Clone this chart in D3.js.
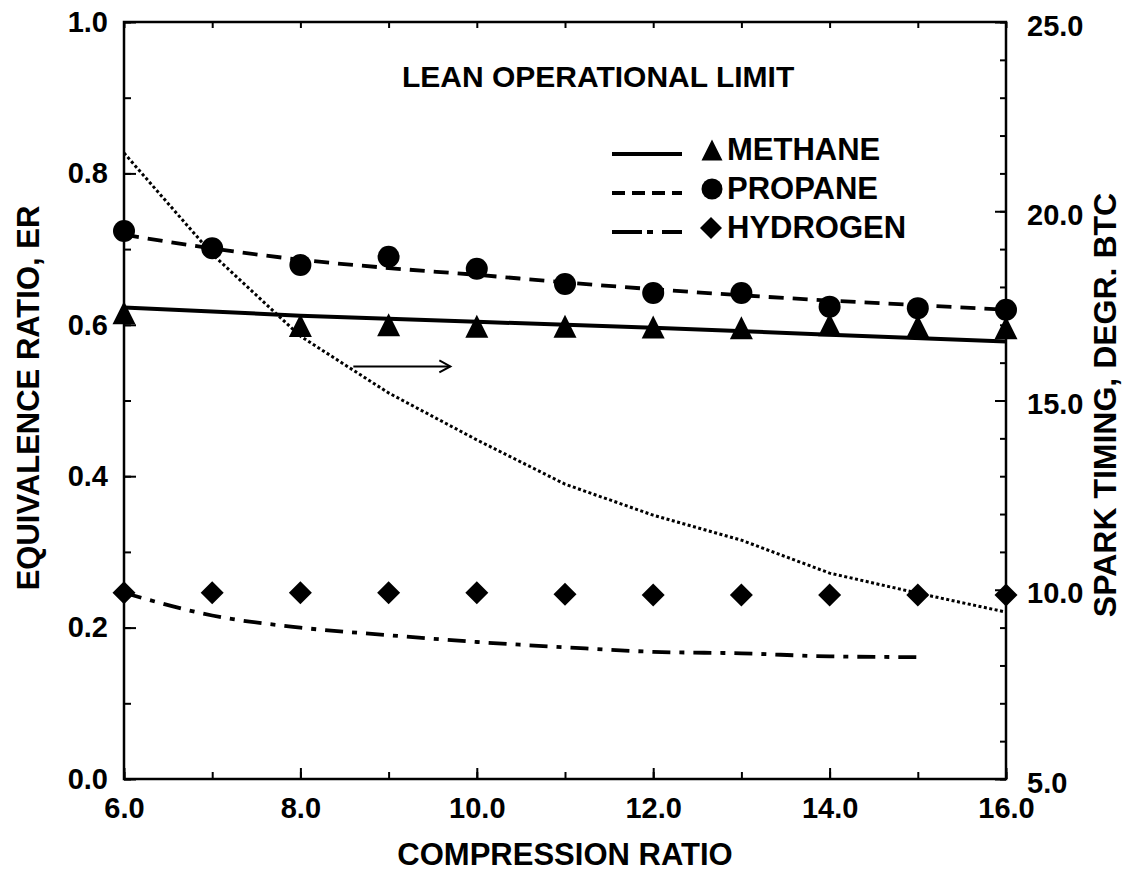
<!DOCTYPE html>
<html><head><meta charset="utf-8">
<script src="https://cdn.jsdelivr.net/npm/d3@7"></script>
<style>
body{margin:0;background:#fff}
svg text{font-family:"Liberation Sans",Arial,Helvetica,sans-serif;font-weight:bold;fill:#000}
</style>
</head><body><svg id="chart" width="1128" height="872"></svg>
<script>
// ---------- data ----------
const compressionRatio = [6,7,8,9,10,11,12,13,14,15,16];
const methaneCR = [6,8,9,10,11,12,13,14,15,16];
const methaneER = [0.616,0.599,0.600,0.598,0.598,0.597,0.596,0.600,0.598,0.596];
const methaneFitCR = [6,8,10,12,14,16];
const methaneFitER = [0.623,0.612,0.604,0.596,0.587,0.578];
const propaneER = [0.724,0.701,0.679,0.690,0.674,0.654,0.642,0.642,0.624,0.622,0.620];
const propaneFitER = [0.719,0.701,0.686,0.675,0.666,0.656,0.647,0.639,0.632,0.626,0.620];
const hydrogenER = [0.246,0.246,0.246,0.246,0.246,0.244,0.243,0.243,0.243,0.243,0.243];
const hydrogenFitCR = [6,7,8,9,10,11,12,13,14,15];
const hydrogenFitER = [0.246,0.216,0.200,0.190,0.181,0.174,0.168,0.166,0.162,0.161];
const sparkTiming = [21.54,18.87,16.70,15.20,13.96,12.79,11.97,11.31,10.44,9.91,9.41];
const xTickValues = [6,8,10,12,14,16];
const leftTickValues = [0,0.2,0.4,0.6,0.8,1.0];
const rightTickValues = [5,10,15,20,25];
const legendLabels = ["METHANE","PROPANE","HYDROGEN"];
const titleText = "LEAN OPERATIONAL LIMIT";
const xTitle = "COMPRESSION RATIO";
const yLeftTitle = "EQUIVALENCE RATIO, ER";
const yRightTitle = "SPARK  TIMING, DEGR. BTC";
const arrowCR = [8.6, 9.7];
const arrowER = 0.545;

// ---------- setup ----------
const svg = d3.select("#chart");
const x = d3.scaleLinear().domain([6,16]).range([124,1006]);
const yL = d3.scaleLinear().domain([0,1]).range([779,22]);
const yR = d3.scaleLinear().domain([5,25]).range([779,22]);
const fmt = d3.format(".1f");

function styleAxis(g, fs){
  g.select(".domain").remove();
  g.selectAll(".tick line").attr("stroke","#000").attr("stroke-width",2);
  g.attr("font-family",null).attr("font-size",null);
  g.selectAll("text").style("font-size",fs+"px");
}

// frame
svg.append("rect")
  .attr("x",x(6)).attr("y",yL(1))
  .attr("width",x(16)-x(6)).attr("height",yL(0)-yL(1))
  .attr("fill","none").attr("stroke","#000").attr("stroke-width",2.5);

// bottom axis
svg.append("g").attr("transform",`translate(0,${yL(0)})`)
  .call(d3.axisBottom(x).tickValues(compressionRatio).tickSizeInner(-7).tickSizeOuter(0).tickFormat(""))
  .call(g=>styleAxis(g,29));
svg.append("g").attr("transform",`translate(0,${yL(0)})`)
  .call(d3.axisBottom(x).tickValues(xTickValues).tickSizeInner(-11).tickSizeOuter(0).tickPadding(18).tickFormat(fmt))
  .call(g=>styleAxis(g,29));
// top axis minor ticks
svg.append("g").attr("transform",`translate(0,${yL(1)})`)
  .call(d3.axisTop(x).tickValues(compressionRatio).tickSizeInner(-6).tickSizeOuter(0).tickFormat(""))
  .call(g=>styleAxis(g,29));
// left axis
svg.append("g").attr("transform",`translate(${x(6)},0)`)
  .call(d3.axisLeft(yL).tickValues(d3.range(0,1.001,0.1)).tickSizeInner(-7).tickSizeOuter(0).tickFormat(""))
  .call(g=>styleAxis(g,29));
svg.append("g").attr("transform",`translate(${x(6)},0)`)
  .call(d3.axisLeft(yL).tickValues(leftTickValues).tickSizeInner(-12).tickSizeOuter(0).tickPadding(16).tickFormat(fmt))
  .call(g=>styleAxis(g,29));
// right axis
svg.append("g").attr("transform",`translate(${x(16)},0)`)
  .call(d3.axisRight(yR).tickValues(d3.range(5,25.001,1)).tickSizeInner(-6).tickSizeOuter(0).tickFormat(""))
  .call(g=>styleAxis(g,29));
svg.append("g").attr("transform",`translate(${x(16)},0)`)
  .call(d3.axisRight(yR).tickValues(rightTickValues).tickSizeInner(-11).tickSizeOuter(0).tickPadding(21).tickFormat(fmt))
  .call(g=>{styleAxis(g,29); g.selectAll("text").attr("dy","0.45em");});

// axis titles
svg.append("text").attr("x",565).attr("y",865).attr("text-anchor","middle")
  .style("font-size","31px").text(xTitle);
svg.append("text").attr("transform","translate(39,398) rotate(-90)").attr("text-anchor","middle")
  .style("font-size","31px").text(yLeftTitle);
svg.append("text").attr("transform","translate(1116,405) rotate(-90)").attr("text-anchor","middle")
  .style("font-size","32px").text(yRightTitle);

// chart title
svg.append("text").attr("x",402).attr("y",87).style("font-size","30px").text(titleText);

// ---------- lines ----------
const lineL = d3.line().x(d=>x(d[0])).y(d=>yL(d[1]));
const lineR = d3.line().x(d=>x(d[0])).y(d=>yR(d[1]));

svg.append("path").datum(d3.zip(methaneFitCR,methaneFitER))
  .attr("d",lineL).attr("fill","none").attr("stroke","#000").attr("stroke-width",4);
svg.append("path").datum(d3.zip(compressionRatio,propaneFitER))
  .attr("d",lineL.curve(d3.curveMonotoneX)).attr("fill","none").attr("stroke","#000")
  .attr("stroke-width",3.8).attr("stroke-dasharray","15,9");
svg.append("path").datum(d3.zip(hydrogenFitCR,hydrogenFitER))
  .attr("d",lineL.curve(d3.curveMonotoneX)).attr("fill","none").attr("stroke","#000")
  .attr("stroke-width",3.8).attr("stroke-dasharray","18,9,5,9");
svg.append("path").datum(d3.zip(compressionRatio,sparkTiming))
  .attr("d",lineR).attr("fill","none").attr("stroke","#000")
  .attr("stroke-width",3).attr("stroke-dasharray","3,2.5");

// arrow
const ax1 = x(arrowCR[0]), ax2 = x(arrowCR[1]), ay = yL(arrowER);
svg.append("line").attr("x1",ax1).attr("x2",ax2).attr("y1",ay).attr("y2",ay)
  .attr("stroke","#000").attr("stroke-width",2);
svg.append("path").attr("d",`M${ax2-11},${ay-6}L${ax2},${ay}L${ax2-11},${ay+6}`)
  .attr("fill","none").attr("stroke","#000").attr("stroke-width",2);

// ---------- markers ----------
const tri = s => `M0,${-s/2}L${s/2},${s/2}L${-s/2},${s/2}Z`;
const dia = s => `M0,${-s/2}L${s/2},0L0,${s/2}L${-s/2},0Z`;

svg.append("g").selectAll("path").data(d3.zip(methaneCR,methaneER)).join("path")
  .attr("transform",d=>`translate(${x(d[0])},${yL(d[1])})`).attr("d",tri(23)).attr("fill","#000");
svg.append("g").selectAll("circle").data(d3.zip(compressionRatio,propaneER)).join("circle")
  .attr("cx",d=>x(d[0])).attr("cy",d=>yL(d[1])).attr("r",11).attr("fill","#000");
svg.append("g").selectAll("path").data(d3.zip(compressionRatio,hydrogenER)).join("path")
  .attr("transform",d=>`translate(${x(d[0])},${yL(d[1])})`).attr("d",dia(23)).attr("fill","#000");

// ---------- legend ----------
const legend = svg.append("g");
const legY = [160,199,238];
const legDash = [null,"13,7","30,5,6,9"];
legendLabels.forEach((lab,i)=>{
  const ly = legY[i];
  const ln = legend.append("line").attr("x1",612).attr("x2",682).attr("y1",ly-6).attr("y2",ly-6)
    .attr("stroke","#000").attr("stroke-width",i===0?4:3.8);
  if(legDash[i]) ln.attr("stroke-dasharray",legDash[i]);
  if(i===0) legend.append("path").attr("transform",`translate(712,${ly-10})`).attr("d",tri(21)).attr("fill","#000");
  if(i===1) legend.append("circle").attr("cx",712).attr("cy",ly-10).attr("r",10.5).attr("fill","#000");
  if(i===2) legend.append("path").attr("transform",`translate(711,${ly-10})`).attr("d",dia(22)).attr("fill","#000");
  legend.append("text").attr("x",727).attr("y",ly).style("font-size","31px").text(lab);
});
</script>
</body></html>
